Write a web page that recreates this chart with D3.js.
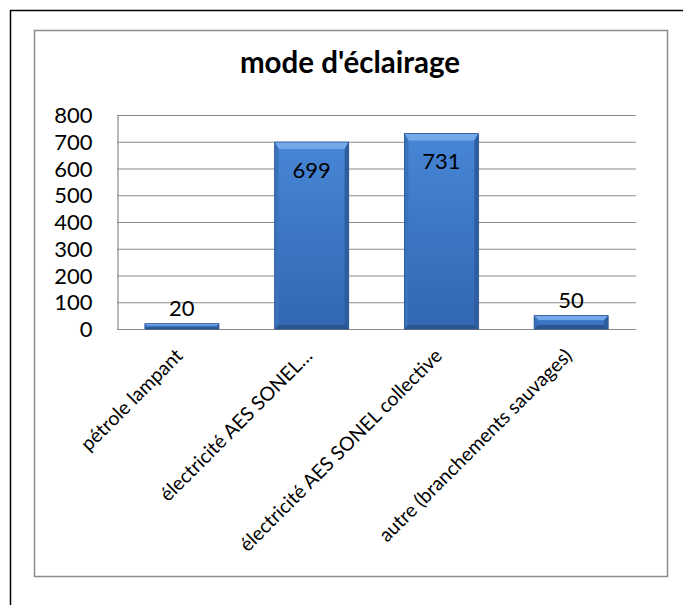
<!DOCTYPE html>
<html><head><meta charset="utf-8">
<script src="https://cdn.jsdelivr.net/npm/d3@7/dist/d3.min.js"></script>
<style>body{margin:0;background:#fff}svg{display:block}</style>
</head><body><svg id="c" width="683" height="605"></svg>
<script>
const categories = ["pétrole lampant", "électricité AES SONEL…", "électricité AES SONEL collective", "autre (branchements sauvages)"];
const values = [20, 699, 731, 50];
const yTicks = [0, 100, 200, 300, 400, 500, 600, 700, 800];
const title = "mode d'éclairage";

const svg = d3.select("#c");
const FONT = "Lato, 'Open Sans', sans-serif";

svg.append("path").attr("d","M10.5,605 V10.5 H683").attr("fill","none").attr("stroke","#000").attr("stroke-width",1.5);
svg.append("rect").attr("x",34.5).attr("y",30.5).attr("width",633).attr("height",546)
  .attr("fill","#fff").attr("stroke","#8c8c8c").attr("stroke-width",1.5);

svg.append("text").attr("x",350).attr("y",73).attr("text-anchor","middle")
  .attr("font-family",FONT).attr("font-weight","bold").attr("font-size",29.5).text(title);

const x0=117, x1=636, yTop=115, yBot=329;
const x = d3.scaleBand().domain(categories).range([x0,x1]).paddingInner(0.43).paddingOuter(0.215);
const y = d3.scaleLinear().domain([0,800]).range([yBot,yTop]);

svg.append("g").selectAll("line").data(yTicks).join("line")
  .attr("x1",x0).attr("x2",x1).attr("y1",d=>y(d)+0.5).attr("y2",d=>y(d)+0.5)
  .attr("stroke","#8a8a8a").attr("stroke-width",1.2);

const yAxis = svg.append("g").attr("transform",`translate(${x0+0.5},0.5)`)
  .call(d3.axisLeft(y).tickValues(yTicks).tickSize(0).tickPadding(25));
yAxis.select(".domain").attr("stroke","#8a8a8a").attr("stroke-width",1.2);
yAxis.selectAll("text").attr("font-family",FONT).attr("font-size",22).attr("fill","#000");

const defs = svg.append("defs");
const g1 = defs.append("linearGradient").attr("id","body").attr("x1",0).attr("y1",0).attr("x2",0).attr("y2",1);
g1.append("stop").attr("offset","0%").attr("stop-color","#4786d6");
g1.append("stop").attr("offset","100%").attr("stop-color","#3267b0");

const bars = svg.append("g").selectAll("g").data(values).join("g");
bars.each(function(v,i){
  const g=d3.select(this);
  const bx=x(categories[i]), bw=x.bandwidth(), by=y(v), bh=yBot-y(v);
  const b=Math.min(7, bh/3);
  const s=Math.min(4, bh/3);
  g.append("rect").attr("x",bx+1).attr("y",by+1).attr("width",bw).attr("height",bh).attr("fill","#000").attr("opacity",0.12);
  g.append("rect").attr("x",bx).attr("y",by).attr("width",bw).attr("height",bh).attr("fill","url(#body)");
  g.append("path").attr("d",`M${bx},${by}H${bx+bw}L${bx+bw-s},${by+b}H${bx+s}Z`).attr("fill","#74a8ea");
  g.append("path").attr("d",`M${bx},${by}L${bx+s},${by+b}V${by+bh-s}L${bx},${by+bh}Z`).attr("fill","#3b72be");
  g.append("path").attr("d",`M${bx+bw},${by}L${bx+bw-s},${by+b}V${by+bh-s}L${bx+bw},${by+bh}Z`).attr("fill","#2e5ea2");
  g.append("path").attr("d",`M${bx},${by+bh}L${bx+s},${by+bh-s}H${bx+bw-s}L${bx+bw},${by+bh}Z`).attr("fill","#29548f");
  g.append("rect").attr("x",bx).attr("y",by).attr("width",bw).attr("height",bh).attr("fill","none").attr("stroke","#2a5594").attr("stroke-width",0.8);
});

svg.append("g").selectAll("text").data(values).join("text")
  .attr("x",(d,i)=>x(categories[i])+x.bandwidth()/2)
  .attr("y",d=> (y(d) < yTop+60) ? y(d)+36 : y(d)-8)
  .attr("text-anchor","middle").attr("font-family",FONT).attr("font-size",22).attr("fill","#000")
  .text(d=>d);

svg.append("g").selectAll("text").data(categories).join("text")
  .attr("transform",d=>`translate(${x(d)+x.bandwidth()/2+2},${yBot+28}) rotate(-45)`)
  .attr("text-anchor","end").attr("font-family",FONT).attr("font-size",19.5).attr("fill","#000")
  .text(d=>d);
</script></body></html>
